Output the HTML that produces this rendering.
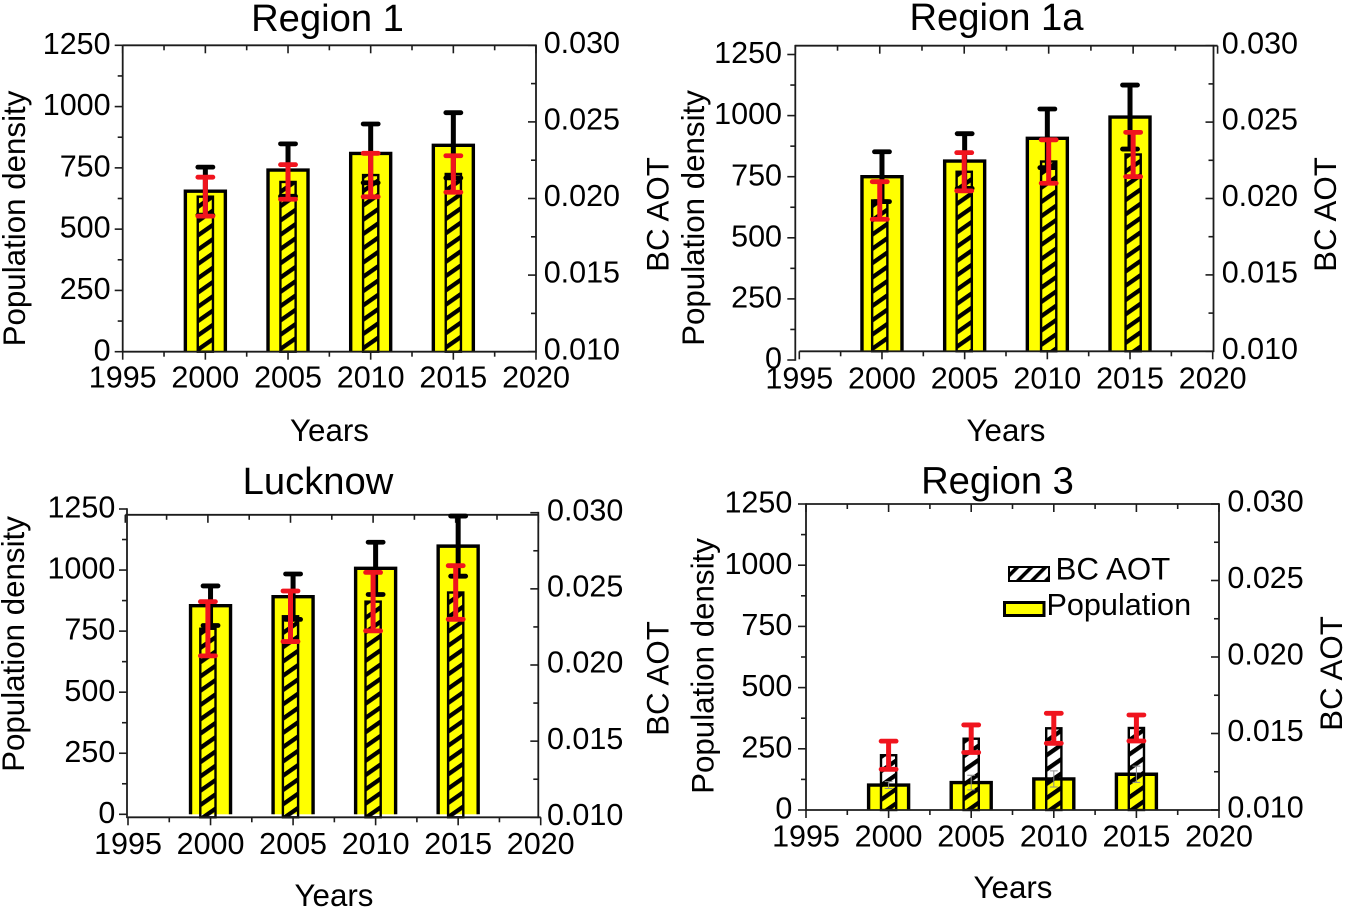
<!DOCTYPE html>
<html lang="en">
<head>
<meta charset="utf-8">
<title>Population density and BC AOT by region</title>
<style>
html,body{margin:0;padding:0;background:#fff;}
svg{display:block;}
text{font-family:"Liberation Sans",sans-serif;fill:#000;}
</style>
</head>
<body>
<svg id="fig" xmlns="http://www.w3.org/2000/svg" width="1347" height="912" viewBox="0 0 1347 912">
<defs>
<pattern id="hatch" patternUnits="userSpaceOnUse" width="11.7" height="10" patternTransform="rotate(55)">
<rect x="0" y="0" width="4.3" height="10" fill="#000"></rect>
</pattern>
<pattern id="hatch-legend" patternUnits="userSpaceOnUse" width="9.9" height="10" patternTransform="rotate(45)">
<rect x="0" y="0" width="3.6" height="10" fill="#000"></rect>
</pattern>
</defs>
<rect x="0" y="0" width="1347" height="912" fill="#fff"></rect>
</svg>
<script>
// ---- Data ----
const years = [2000, 2005, 2010, 2015];
const xTickYears = [1995, 2000, 2005, 2010, 2015, 2020];
const xTickLabels = ['1995', '2000', '2005', '2010', '2015', '2020'];
const leftTickValues = [0, 250, 500, 750, 1000, 1250];
const leftTickLabels = ['0', '250', '500', '750', '1000', '1250'];
const rightTickValues = [0.010, 0.015, 0.020, 0.025, 0.030];
const rightTickLabels = ['0.010', '0.015', '0.020', '0.025', '0.030'];

const region1Pop = [655, 741, 809, 842];
const region1PopErr = [98, 107, 120, 133];
const region1Bc = [0.02012, 0.02108, 0.02153, 0.0216];
const region1BcErr = [0.00127, 0.00113, 0.00142, 0.00119];

const region1aPop = [750, 814, 907, 994];
const region1aPopErr = [102, 112, 120, 131];
const region1aBc = [0.01987, 0.02175, 0.02242, 0.02288];
const region1aBcErr = [0.00123, 0.00125, 0.00142, 0.00145];

const lucknowPop = [854, 891, 1007, 1098];
const lucknowPopErr = [81, 93, 107, 123];
const lucknowBc = [0.02238, 0.0232, 0.02416, 0.02476];
const lucknowBcErr = [0.00178, 0.00166, 0.00192, 0.00176];

const region3Pop = [102, 112, 127, 146];
const region3PopErr = [14, 30, 33, 33];
const region3Bc = [0.01358, 0.01466, 0.01534, 0.01536];
const region3BcErr = [0.00092, 0.0009, 0.00098, 0.00085];

// ---- Panel definitions ----
const panels = [
  {key:'region-1', title:'Region 1', pop:region1Pop, popErr:region1PopErr, bc:region1Bc, bcErr:region1BcErr,
   box:{xb0:122.7,xb1:536,xt0:122.7,xt1:536,top:45.3,bottom:351.7,left0:351.7,left1:45.3,right0:351.7,right1:45.3,axL:122.7,axR:536,
        lblL:110.6,lblR:543.7,lblX:387.7,tX:327.5,tY:31,pdX:25,pdY:218.5,bcX:668.5,bcY:214.5,yrX:329.5,yrY:441}},
  {key:'region-1a', title:'Region 1a', pop:region1aPop, popErr:region1aPopErr, bc:region1aBc, bcErr:region1aBcErr,
   box:{xb0:799.3,xb1:1212.7,xt0:795.3,xt1:1217.6,top:45.7,bottom:351.3,left0:360,left1:54.5,right0:351.3,right1:45.7,axL:795.3,axR:1213.5,
        lblL:782,lblR:1221.7,lblX:388.3,tX:996.5,tY:30,pdX:704,pdY:218,bcX:1336,bcY:214.5,yrX:1006,yrY:441}},
  {key:'lucknow', title:'Lucknow', pop:lucknowPop, popErr:lucknowPopErr, bc:lucknowBc, bcErr:lucknowBcErr,
   box:{xb0:128,xb1:540.7,xt0:125.3,xt1:538.3,top:514.8,bottom:817.3,left0:814.3,left1:509,right0:817.3,right1:512.7,axL:127,axR:538.3,
        lblL:115.3,lblR:547,lblX:854,tX:318,tY:494,pdX:24,pdY:644,bcX:668.5,bcY:678.5,yrX:334,yrY:906}},
  {key:'region-3', title:'Region 3', pop:region3Pop, popErr:region3PopErr, bc:region3Bc, bcErr:region3BcErr, thinPopErr:true,
   box:{xb0:806,xb1:1219,xt0:806,xt1:1219,top:504,bottom:810,left0:810,left1:504,right0:810,right1:504,axL:806,axR:1219,
        lblL:792.3,lblR:1227.4,lblX:846.7,tX:997.5,tY:493.5,pdX:713.5,pdY:666,bcX:1342,bcY:673.5,yrX:1013,yrY:898}}
];

const NS = 'http://www.w3.org/2000/svg';
const fig = document.getElementById('fig');
const INK = '#1c1c1c';
const RED = '#f0141e';

function mk(parent, tag, attrs, txt) {
  const el = document.createElementNS(NS, tag);
  for (const k in attrs) el.setAttribute(k, attrs[k]);
  if (txt !== undefined) el.textContent = txt;
  parent.appendChild(el);
  return el;
}
function line(parent, x1, y1, x2, y2, w, c, cap) {
  return mk(parent, 'line', {x1:x1, y1:y1, x2:x2, y2:y2, stroke:c || INK, 'stroke-width':w, 'stroke-linecap':cap || 'butt'});
}
function label(parent, x, y, s, anchor, size) {
  return mk(parent, 'text', {x:x, y:y, 'text-anchor':anchor, 'font-size':size}, s);
}
function vlabel(parent, x, y, s, size) {
  return mk(parent, 'text', {transform:'translate(' + x + ',' + y + ') rotate(-90)', 'text-anchor':'middle', 'font-size':size}, s);
}
function errorBar(parent, x, yHi, yLo, color, stem, capLen, capW) {
  const s = line(parent, x, yHi, x, yLo, stem, color);
  
  
  const a = line(parent, x - capLen / 2, yHi, x + capLen / 2, yHi, capW, color, 'round');
  
  
  const b = line(parent, x - capLen / 2, yLo, x + capLen / 2, yLo, capW, color, 'round');
  
  
}

const TICK = 30.5;
const AXIS_TITLE = 31.3;
const PANEL_TITLE = 38.2;

panels.forEach(function (p) {
  const b = p.box;
  const xBottom = function (v) { return b.xb0 + (v - 1995) / 25 * (b.xb1 - b.xb0); };
  const xTop = function (v) { return b.xt0 + (v - 1995) / 25 * (b.xt1 - b.xt0); };
  const yLeft = function (v) { return b.left0 + v / 1250 * (b.left1 - b.left0); };
  const yRight = function (v) { return b.right0 + (v - 0.010) / 0.020 * (b.right1 - b.right0); };

  const g = mk(fig, 'g', {});
  
  

  // Population bars
  years.forEach(function (yr, i) {
    const cx = xBottom(yr), t = yLeft(p.pop[i]), base = Math.min(yLeft(0), b.bottom), hw = 20;
    const f = mk(g, 'rect', {x:cx - hw, y:t, width:hw * 2, height:base - t, fill:'#ffff00'});
    
    
    const o = mk(g, 'path', {d:'M' + (cx - hw) + ' ' + base + 'V' + t + 'H' + (cx + hw) + 'V' + base, fill:'none', stroke:'#000', 'stroke-width':3.4});
    
    
  });

  // BC AOT bars
  years.forEach(function (yr, i) {
    const cx = xTop(yr), t = yRight(p.bc[i]), base = yRight(0.010), hw = 7.6;
    const r = mk(g, 'rect', {x:cx - hw, y:t, width:hw * 2, height:base - t, fill:'url(#hatch)', stroke:'#000', 'stroke-width':2.4});
    
    
  });

  // Axes frame
  const axes = mk(g, 'g', {});
  
  
  const ax1 = line(axes, b.axL, Math.min(b.left1, b.top) - 0.8, b.axL, Math.max(b.left0, b.bottom) + 0.8, 1.8);
  
  
  const ax2 = line(axes, b.axR, b.right1 - 0.8, b.axR, b.right0 + 0.8, 1.8);
  
  
  const ax3 = line(axes, Math.min(b.xt0, b.axL), b.top, b.xt1, b.top, 1.8);
  
  
  const ax4 = line(axes, b.xb0, b.bottom, b.xb1, b.bottom, 1.8);
  
  

  // X ticks and labels
  for (let yv = 1995; yv <= 2020; yv += 2.5) {
    const major = (yv % 5 === 0);
    const tb = line(axes, xBottom(yv), b.bottom, xBottom(yv), b.bottom + (major ? 8 : 5), 1.6);
    
    
    const tt = line(axes, xTop(yv), b.top, xTop(yv), b.top + (major ? 8 : 5), 1.6);
    
    
  }
  xTickYears.forEach(function (yv, i) {
    const t = label(axes, xBottom(yv), b.lblX, xTickLabels[i], 'middle', TICK);
    
    
  });

  // Left ticks and labels
  for (let v = 0; v <= 1250; v += 125) {
    const major = (v % 250 === 0);
    const tl = line(axes, b.axL - (major ? 8 : 5), yLeft(v), b.axL, yLeft(v), 1.6);
    
    
  }
  leftTickValues.forEach(function (v, i) {
    const t = label(axes, b.lblL, yLeft(v) + 8.6, leftTickLabels[i], 'end', TICK);
    
    
  });

  // Right ticks and labels
  for (let k = 0; k <= 8; k++) {
    const v = 0.010 + k * 0.0025;
    const major = (k % 2 === 0);
    const tr = line(axes, b.axR - (major ? 8 : 5), yRight(v), b.axR, yRight(v), 1.6);
    
    
  }
  rightTickValues.forEach(function (v, i) {
    const t = label(axes, b.lblR, yRight(v) + 7.6, rightTickLabels[i], 'start', TICK);
    
    
  });

  // Population error bars
  years.forEach(function (yr, i) {
    const cx = xBottom(yr);
    const hi = yLeft(p.pop[i] + p.popErr[i]), lo = yLeft(p.pop[i] - p.popErr[i]);
    if (p.thinPopErr) {
      errorBar(g, cx, hi, lo, '#8a8a8a', 1, 7, 1);
    } else {
      errorBar(g, cx, hi, lo, '#000', 5, 15, 4.8);
    }
  });

  // BC AOT error bars
  years.forEach(function (yr, i) {
    const cx = xTop(yr);
    errorBar(g, cx, yRight(p.bc[i] + p.bcErr[i]), yRight(p.bc[i] - p.bcErr[i]), RED, 5, 15, 4.8);
  });

  // Text
  const ttl = label(g, b.tX, b.tY, p.title, 'middle', PANEL_TITLE);
  
  
  const yl = vlabel(g, b.pdX, b.pdY, 'Population density', AXIS_TITLE);
  
  
  const yr2 = vlabel(g, b.bcX, b.bcY, 'BC AOT', AXIS_TITLE);
  
  
  const xl = label(g, b.yrX, b.yrY, 'Years', 'middle', AXIS_TITLE);
  
  
});

// Legend (Region 3 panel)
const legend = mk(fig, 'g', {});


const sw1 = mk(legend, 'rect', {x:1009, y:567, width:40, height:14, fill:'url(#hatch-legend)', stroke:'#000', 'stroke-width':2});


const lt1 = label(legend, 1055.5, 579.5, 'BC AOT', 'start', AXIS_TITLE);


const sw2 = mk(legend, 'rect', {x:1004.5, y:602.5, width:39.5, height:13, fill:'#ffff00', stroke:'#000', 'stroke-width':3});


const lt2 = label(legend, 1046.5, 615, 'Population', 'start', 30.6);


</script>
</body>
</html>
